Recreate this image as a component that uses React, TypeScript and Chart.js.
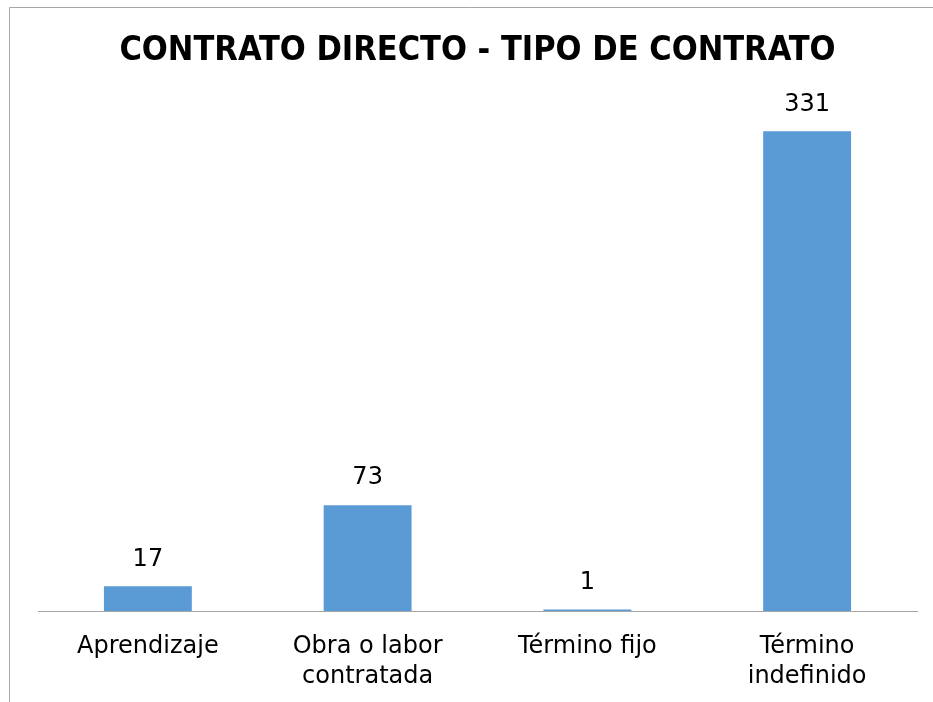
import React, { useEffect, useRef } from "react";
import { Chart, registerables } from "chart.js";

Chart.register(...registerables);

const categories: (string | string[])[] = [
  "Aprendizaje",
  ["Obra o labor", "contratada"],
  "Término fijo",
  ["Término", "indefinido"],
];
const values: number[] = [17, 73, 1, 331];
const chartTitle = "CONTRATO DIRECTO - TIPO DE CONTRATO";

const FONT = "'DejaVu Sans', sans-serif";
const TITLE_FONT = "'DejaVu Sans Condensed', 'DejaVu Sans', sans-serif";

const framePlugin = {
  id: "frame",
  beforeDraw(chart: any) {
    const ctx = chart.ctx;
    ctx.save();
    ctx.fillStyle = "#ffffff";
    ctx.fillRect(0, 0, chart.width, chart.height);
    ctx.strokeStyle = "#a6a6a6";
    ctx.lineWidth = 1;
    ctx.beginPath();
    ctx.moveTo(9.5, chart.height);
    ctx.lineTo(9.5, 7.5);
    ctx.lineTo(chart.width, 7.5);
    ctx.stroke();
    ctx.restore();
  },
};

const valueLabelPlugin = {
  id: "valueLabels",
  afterDatasetsDraw(chart: any) {
    const ctx = chart.ctx;
    const meta = chart.getDatasetMeta(0);
    const data = chart.data.datasets[0].data as number[];
    ctx.save();
    ctx.font = `24px ${FONT}`;
    ctx.fillStyle = "#000000";
    ctx.textAlign = "center";
    ctx.textBaseline = "middle";
    meta.data.forEach((el: any, i: number) => {
      ctx.fillText(String(data[i]), el.x, el.y - 27);
    });
    ctx.restore();
  },
};

export default function App() {
  const ref = useRef<HTMLCanvasElement | null>(null);
  useEffect(() => {
    document.body.style.margin = "0";
    if (!ref.current) return;
    const chart = new Chart(ref.current, {
      type: "bar",
      data: {
        labels: categories,
        datasets: [
          {
            data: values,
            backgroundColor: "#5B9BD5",
            barPercentage: 0.4,
            categoryPercentage: 1,
          },
        ],
      },
      options: {
        animation: false,
        responsive: false,
        maintainAspectRatio: false,
        layout: { padding: { left: 38, right: 16, top: 0, bottom: 0 } },
        plugins: {
          legend: { display: false },
          tooltip: { enabled: false },
          title: {
            display: true,
            text: chartTitle,
            color: "#000000",
            font: { family: TITLE_FONT, size: 34, weight: "bold", lineHeight: 1.2 },
            padding: { top: 31, bottom: 32 },
          },
        },
        scales: {
          x: {
            grid: { display: false, drawTicks: false },
            border: { display: true, color: "#a6a6a6", width: 1 },
            ticks: {
              color: "#000000",
              font: { family: FONT, size: 24, lineHeight: 1.25 },
              padding: 21,
              maxRotation: 0,
              autoSkip: false,
            },
            afterFit(scale: any) {
              scale.height = 91;
            },
          },
          y: {
            display: false,
            min: 0,
            max: 350,
          },
        },
      },
      plugins: [framePlugin, valueLabelPlugin],
    });
    return () => chart.destroy();
  }, []);
  return (
    <div style={{ width: 933, height: 702 }}>
      <canvas ref={ref} width={933} height={702} style={{ display: "block" }} />
    </div>
  );
}
